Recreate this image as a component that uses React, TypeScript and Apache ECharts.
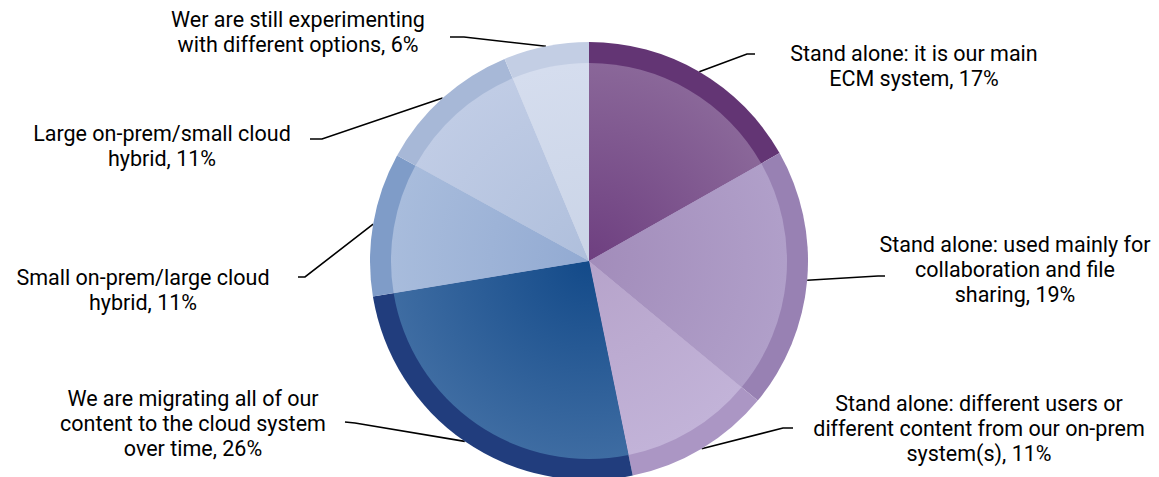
import React, { useEffect, useRef } from 'react';
import * as echarts from 'echarts';

const categories = [
  'Stand alone: it is our main\nECM system',
  'Stand alone: used mainly for\ncollaboration and file\nsharing',
  'Stand alone: different users or\ndifferent content from our on-prem\nsystem(s)',
  'We are migrating all of our\ncontent to the cloud system\nover time',
  'Small on-prem/large cloud\nhybrid',
  'Large on-prem/small cloud\nhybrid',
  'Wer are still experimenting\nwith different options',
];
const shares = [16.8, 19.2, 10.8, 25.6, 10.6, 10.7, 6.3];

const ringColors = ['#633574', '#9881b3', '#ab96c4', '#213d7d', '#7f9cc8', '#a7b8d7', '#c3cee4'];
const innerCenterColors = ['#6e3f80', '#a28cba', '#b6a3ca', '#134a89', '#92aad2', '#afbfdc', '#cad4e7'];
const innerEdgeColors = ['#8a6799', '#b09fc9', '#c2b3d8', '#3e6ca2', '#a8bcdc', '#c0cce5', '#d5ddee'];

const labelCenters = [
  [914, 66],
  [1015, 269],
  [979, 428],
  [193, 423],
  [143, 290],
  [162, 146],
  [298, 32],
];
const leaderEnds = [
  [[747, 54], [755, 54]],
  [[878, 276], [885, 276]],
  [[783, 428], [793, 428]],
  [[355, 423], [345, 422]],
  [[305, 277], [298, 277]],
  [[322, 139], [310, 139]],
  [[464, 37], [450, 37]],
];

const CX = 589;
const CY = 261;
const R_OUT = 219;
const R_IN = 198;

export default function App() {
  const ref = useRef<HTMLDivElement>(null);
  useEffect(() => {
    document.body.style.margin = '0';
    if (!ref.current) return;
    const chart = echarts.init(ref.current, undefined, { renderer: 'svg' });
    const outerData = categories.map((name, i) => ({
      name,
      value: shares[i],
      itemStyle: { color: ringColors[i] },
    }));
    const innerData = categories.map((name, i) => ({
      name,
      value: shares[i],
      itemStyle: {
        color: new echarts.graphic.RadialGradient(
          CX,
          CY,
          R_IN,
          [
            { offset: 0, color: innerCenterColors[i] },
            { offset: 1, color: innerEdgeColors[i] },
          ],
          true
        ),
      },
    }));
    chart.setOption({
      animation: false,
      backgroundColor: '#ffffff',
      series: [
        {
          type: 'pie',
          center: [CX, CY],
          radius: [0, R_OUT],
          startAngle: 90,
          clockwise: true,
          silent: true,
          avoidLabelOverlap: false,
          data: outerData,
          itemStyle: { borderWidth: 0 },
          label: {
            show: true,
            position: 'outside',
            formatter: (p: any) => `${p.name}, ${Math.round(p.value)}%`,
            fontFamily: 'Roboto',
            fontSize: 21.5,
            lineHeight: 25,
            color: '#000',
            align: 'center',
          },
          labelLine: {
            show: true,
            length: 20,
            length2: 10,
            lineStyle: { color: '#000', width: 1.6 },
          },
          labelLayout: (params: any) => {
            const i = params.dataIndex;
            const start = params.labelLinePoints ? params.labelLinePoints[0] : leaderEnds[i][0];
            return {
              x: labelCenters[i][0],
              y: labelCenters[i][1],
              align: 'center',
              verticalAlign: 'middle',
              labelLinePoints: [start, leaderEnds[i][0], leaderEnds[i][1]],
            };
          },
        },
        {
          type: 'pie',
          center: [CX, CY],
          radius: [0, R_IN],
          startAngle: 90,
          clockwise: true,
          silent: true,
          data: innerData,
          itemStyle: { borderWidth: 0 },
          label: { show: false },
          labelLine: { show: false },
        },
      ],
    });
    return () => chart.dispose();
  }, []);
  return <div ref={ref} style={{ width: 1159, height: 477 }} />;
}
